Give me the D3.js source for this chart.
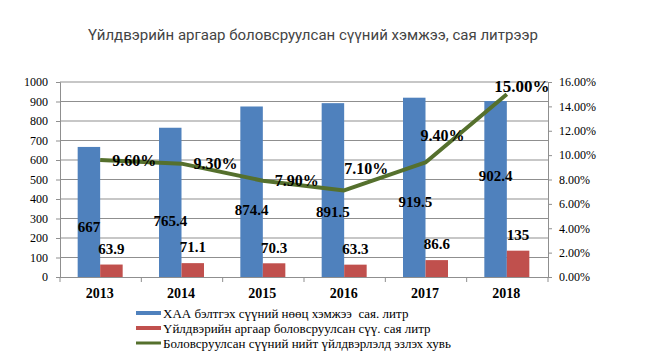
<!DOCTYPE html>
<html><head><meta charset="utf-8">
<script src="https://cdn.jsdelivr.net/npm/d3@7"></script>
<style>body{margin:0;background:#fff}svg{display:block}</style>
</head><body>
<svg id="c" width="660" height="364"></svg>
<script>
const years = ["2013","2014","2015","2016","2017","2018"];
const reserve = [667, 765.4, 874.4, 891.5, 919.5, 902.4];
const processed = [63.9, 71.1, 70.3, 63.3, 86.6, 135];
const share = [0.096, 0.093, 0.079, 0.071, 0.094, 0.15];
const shareLabels = ["9.60%","9.30%","7.90%","7.10%","9.40%","15.00%"];
const leftTicks = [0,100,200,300,400,500,600,700,800,900,1000];
const rightTicks = [0,0.02,0.04,0.06,0.08,0.10,0.12,0.14,0.16];
const seriesNames = ["ХАА бэлтгэх сүүний нөөц хэмжээ  сая. литр","Үйлдвэрийн аргаар боловсруулсан сүү. сая литр","Боловсруулсан сүүний нийт үйлдвэрлэлд эзлэх хувь"];
const title = "Үйлдвэрийн аргаар боловсруулсан сүүний хэмжээ, сая литрээр";

// label placement tweaks (style, not data)
const blueDy = [15, 18, 18, 22, 14, -13];
const lineLblOff = [[34,0],[34,0],[34,0],[22,-22],[17,-27],[15,-8]];

const colBlue = "#4F81BD", colRed = "#C0504D", colGreen = "#55702D";
const svg = d3.select("#c");
const L = 60, R = 548, T = 82, B = 277;

const x = d3.scaleBand().domain(years).range([L, R]);
const y = d3.scaleLinear().domain([0, 1000]).range([B, T]);
const y2 = d3.scaleLinear().domain([0, 0.16]).range([B, T]);
const bw = 22.5;

svg.append("text").attr("x", 313).attr("y", 40).attr("text-anchor", "middle")
  .attr("font-family", "Roboto, 'Liberation Sans', sans-serif").attr("font-size", 15)
  .attr("fill", "#444").text(title);

// gridlines
svg.append("g").selectAll("line").data(leftTicks.filter(d => d > 0)).join("line")
  .attr("x1", L).attr("x2", R).attr("y1", d => y(d)).attr("y2", d => y(d))
  .attr("stroke", "#8f8f8f").attr("stroke-width", 1);

// left axis
const ga = svg.append("g").attr("transform", `translate(${L},0)`)
  .call(d3.axisLeft(y).tickValues(leftTicks).tickSize(4).tickPadding(8).tickFormat(d3.format("d")));
ga.select(".domain").attr("stroke", "#8f8f8f");
ga.selectAll(".tick line").attr("stroke", "#8f8f8f");
ga.selectAll("text").attr("font-family", "'Liberation Serif', serif").attr("font-size", 12).attr("fill", "#000");

// right axis
const gr = svg.append("g").attr("transform", `translate(${R},0)`)
  .call(d3.axisRight(y2).tickValues(rightTicks).tickSize(4).tickPadding(7).tickFormat(d3.format(".2%")));
gr.select(".domain").attr("stroke", "#8f8f8f");
gr.selectAll(".tick line").attr("stroke", "#8f8f8f");
gr.selectAll("text").attr("font-family", "'Liberation Serif', serif").attr("font-size", 12).attr("fill", "#000");

// bars
const g = svg.append("g");
g.selectAll(".b1").data(reserve).join("rect")
  .attr("x", (d, i) => x(years[i]) + x.bandwidth()/2 - bw - 0.5).attr("width", bw)
  .attr("y", d => y(d)).attr("height", d => B - y(d)).attr("fill", colBlue);
g.selectAll(".b2").data(processed).join("rect")
  .attr("x", (d, i) => x(years[i]) + x.bandwidth()/2 - 0.5).attr("width", bw)
  .attr("y", d => y(d)).attr("height", d => B - y(d)).attr("fill", colRed);

// x axis
svg.append("line").attr("x1", L).attr("x2", R).attr("y1", B + 0.5).attr("y2", B + 0.5).attr("stroke", "#8f8f8f");
svg.append("g").selectAll("line").data(years.concat(["end"])).join("line")
  .attr("x1", (d, i) => L + i * x.bandwidth()).attr("x2", (d, i) => L + i * x.bandwidth())
  .attr("y1", B).attr("y2", B + 5).attr("stroke", "#8f8f8f");
svg.append("g").selectAll("text").data(years).join("text")
  .attr("x", d => x(d) + x.bandwidth()/2 - 1).attr("y", 298).attr("text-anchor", "middle")
  .attr("font-family", "'Liberation Serif', serif").attr("font-weight", "bold").attr("font-size", 14)
  .text(d => d);

// line
const cx = i => x(years[i]) + x.bandwidth()/2 - 0.5;
svg.append("path").datum(share)
  .attr("d", d3.line().x((d, i) => cx(i)).y(d => y2(d)))
  .attr("fill", "none").attr("stroke", colGreen).attr("stroke-width", 4).attr("stroke-linejoin", "round");

const lblFont = "'Liberation Serif', serif";
// blue labels
svg.append("g").selectAll("text").data(reserve).join("text")
  .attr("x", (d, i) => cx(i) - bw/2 + (i === 4 ? 1 : 0))
  .attr("y", (d, i) => (y(d) + B)/2 + blueDy[i]).attr("dy", "0.35em").attr("text-anchor", "middle")
  .attr("font-family", lblFont).attr("font-weight", "bold").attr("font-size", 15).text(d => d);
// red labels
svg.append("g").selectAll("text").data(processed).join("text")
  .attr("x", (d, i) => cx(i) + bw/2)
  .attr("y", d => y(d) - 16).attr("dy", "0.35em").attr("text-anchor", "middle")
  .attr("font-family", lblFont).attr("font-weight", "bold").attr("font-size", 15).text(d => d);
// line labels
svg.append("g").selectAll("text").data(share).join("text")
  .attr("x", (d, i) => cx(i) + lineLblOff[i][0])
  .attr("y", (d, i) => y2(d) + lineLblOff[i][1]).attr("dy", "0.35em").attr("text-anchor", "middle")
  .attr("font-family", lblFont).attr("font-weight", "bold").attr("font-size", (d, i) => i === 5 ? 17 : 16)
  .text((d, i) => shareLabels[i]);

// legend
const lg = svg.append("g");
const ly = [313, 328, 343];
lg.append("rect").attr("x", 136).attr("y", ly[0] - 2).attr("width", 25).attr("height", 4).attr("fill", colBlue);
lg.append("rect").attr("x", 136).attr("y", ly[1] - 2).attr("width", 25).attr("height", 4).attr("fill", colRed);
lg.append("line").attr("x1", 136).attr("x2", 161).attr("y1", ly[2]).attr("y2", ly[2]).attr("stroke", colGreen).attr("stroke-width", 3);
lg.selectAll("text").data(seriesNames).join("text")
  .attr("x", 163).attr("y", (d, i) => ly[i]).attr("dy", "0.35em")
  .attr("font-family", lblFont).attr("font-size", 13).attr("fill", "#000")
  .style("white-space", "pre").text(d => d);
</script>
</body></html>
